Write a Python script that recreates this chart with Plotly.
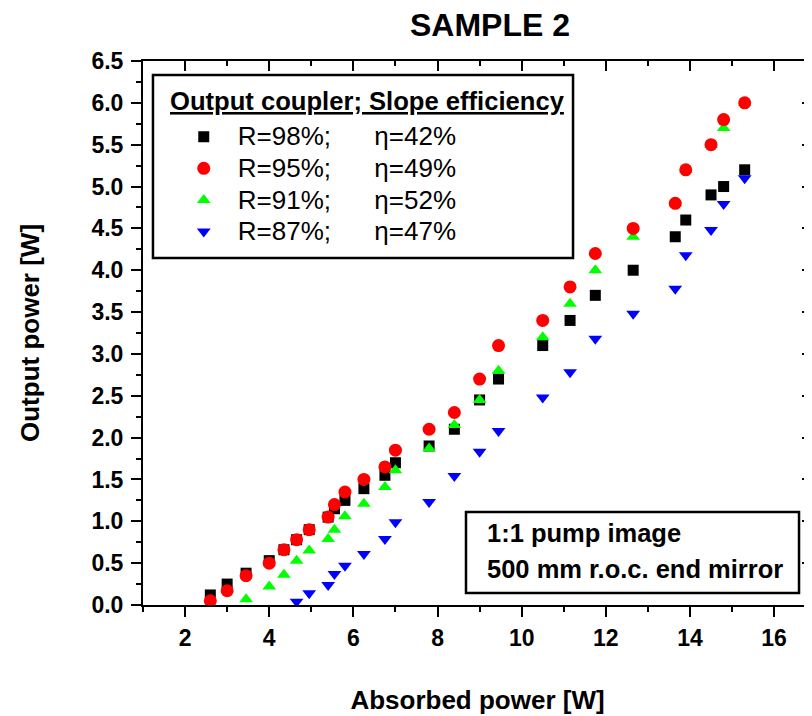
import plotly.graph_objects as go

# absorbed pump power [W] and output power [W] for each output coupler
x_98 = [2.6, 3.0, 3.45, 4.0, 4.35, 4.65, 4.95, 5.4, 5.55, 5.8, 6.25, 6.75, 7.0, 7.8, 8.4,
        9.0, 9.45, 10.5, 11.15, 11.75, 12.65, 13.65, 13.9, 14.5, 14.8, 15.3]
y_98 = [0.12, 0.25, 0.38, 0.53, 0.66, 0.78, 0.90, 1.05, 1.15, 1.25, 1.39, 1.55, 1.70, 1.90, 2.10,
        2.45, 2.70, 3.10, 3.40, 3.70, 4.00, 4.40, 4.60, 4.90, 5.00, 5.20]

x_95 = [2.6, 3.0, 3.45, 4.0, 4.35, 4.65, 4.95, 5.4, 5.55, 5.8, 6.25, 6.75, 7.0, 7.8, 8.4,
        9.0, 9.45, 10.5, 11.15, 11.75, 12.65, 13.65, 13.9, 14.5, 14.8, 15.3]
y_95 = [0.05, 0.17, 0.35, 0.50, 0.66, 0.78, 0.90, 1.05, 1.20, 1.35, 1.50, 1.65, 1.85, 2.10, 2.30,
        2.70, 3.10, 3.40, 3.80, 4.20, 4.50, 4.80, 5.20, 5.50, 5.80, 6.00]

x_91 = [3.45, 4.0, 4.35, 4.65, 4.95, 5.4, 5.55, 5.8, 6.25, 6.75, 7.0, 7.8, 8.4,
        9.0, 9.45, 10.5, 11.15, 11.75, 12.65, 13.65, 13.9, 14.5, 14.8, 15.3]
y_91 = [0.07, 0.22, 0.36, 0.53, 0.65, 0.79, 0.90, 1.06, 1.21, 1.41, 1.61, 1.87, 2.15,
        2.45, 2.80, 3.20, 3.60, 4.00, 4.40, 4.80, 5.20, 5.50, 5.70, 6.00]

x_87 = [4.65, 4.95, 5.4, 5.55, 5.8, 6.25, 6.75, 7.0, 7.8, 8.4,
        9.0, 9.45, 10.5, 11.15, 11.75, 12.65, 13.65, 13.9, 14.5, 14.8, 15.3]
y_87 = [0.04, 0.14, 0.24, 0.37, 0.47, 0.61, 0.79, 0.99, 1.23, 1.54,
        1.83, 2.08, 2.48, 2.78, 3.18, 3.48, 3.78, 4.18, 4.48, 4.79, 5.10]

labels = ["R=98%;", "R=95%;", "R=91%;", "R=87%;"]
slopes = ["\u03b7=42%", "\u03b7=49%", "\u03b7=52%", "\u03b7=47%"]

FONT = "Liberation Sans, Arial, sans-serif"
gap = "\u00a0" * 6

fig = go.Figure()

# drawing order: black, blue, green, red (red on top as in the original)
series = [
    (x_98, y_98, 0, "square", "#000000", 11),
    (x_87, y_87, 3, "triangle-down", "#0000ff", 12),
    (x_91, y_91, 2, "triangle-up", "#00ff00", 12),
    (x_95, y_95, 1, "circle", "#ff0000", 13),
]
for xs, ys, i, sym, col, sz in series:
    fig.add_trace(go.Scatter(
        x=xs, y=ys, mode="markers",
        name='<span style="font-size:26px">' + labels[i] + gap + slopes[i] + "</span>",
        legendrank=i + 1,
        marker=dict(symbol=sym, color=col, size=sz, line=dict(width=0)),
    ))

# empty trace so the mirrored (top / right) axes get drawn
fig.add_trace(go.Scatter(x=[], y=[], xaxis="x2", yaxis="y2", showlegend=False))

tickfont = dict(family=FONT, size=23, color="black", weight="bold")

# the page body adds an 8 px margin, so the figure is 8 px smaller than the window
fig.update_layout(
    width=804, height=708,
    margin=dict(l=135, r=0, t=53, b=111),
    paper_bgcolor="white", plot_bgcolor="white",
    title=dict(text="<b>SAMPLE 2</b>", x=0.5995, xanchor="center", y=0.976, yanchor="middle",
               font=dict(family=FONT, size=32, color="black")),
    xaxis=dict(
        range=[1, 16.9], tick0=0, dtick=2, automargin=False,
        showline=True, linecolor="black", linewidth=2,
        ticks="outside", ticklen=10, tickwidth=2, tickcolor="black",
        minor=dict(ticks="outside", ticklen=5, tickwidth=2, dtick=1, tickcolor="black"),
        showgrid=False, zeroline=False, tickfont=tickfont, ticklabelstandoff=1,
        title=dict(text="<b>Absorbed power [W]</b>", standoff=41,
                   font=dict(family=FONT, size=26, color="black")),
    ),
    yaxis=dict(
        range=[0, 6.5], tick0=0, dtick=0.5, tickformat=".1f", automargin=False,
        showline=True, linecolor="black", linewidth=2,
        ticks="outside", ticklen=10, tickwidth=2, tickcolor="black",
        minor=dict(ticks="outside", ticklen=5, tickwidth=2, dtick=0.25, tickcolor="black"),
        showgrid=False, zeroline=False, tickfont=tickfont, ticklabelstandoff=3,
        title=dict(text="<b>Output power [W]</b>", standoff=44,
                   font=dict(family=FONT, size=26, color="black")),
    ),
    xaxis2=dict(
        overlaying="x", side="top", anchor="y2", range=[1, 16.9], tick0=0, dtick=2,
        automargin=False,
        showline=True, linecolor="black", linewidth=2,
        ticks="inside", ticklen=10, tickwidth=2, tickcolor="black",
        minor=dict(ticks="inside", ticklen=5, tickwidth=2, dtick=1, tickcolor="black"),
        showticklabels=False, showgrid=False, zeroline=False,
    ),
    yaxis2=dict(
        overlaying="y", side="right", anchor="x2", range=[0, 6.5], tick0=0, dtick=0.5,
        automargin=False, showline=False,
        ticks="inside", ticklen=10, tickwidth=2, tickcolor="black",
        minor=dict(ticks="inside", ticklen=5, tickwidth=2, dtick=0.25, tickcolor="black"),
        showticklabels=False, showgrid=False, zeroline=False,
    ),
    showlegend=True,
    legend=dict(
        x=0.04, xanchor="left", y=0.899, yanchor="top",
        bgcolor="rgba(0,0,0,0)", borderwidth=0,
        font=dict(family=FONT, size=22, color="black"),
        itemwidth=58,
    ),
)

# legend frame and header
fig.add_shape(type="rect", xref="paper", yref="paper",
              x0=0.0149, x1=0.6428, y0=0.6379, y1=0.9743,
              line=dict(color="black", width=2.5), fillcolor="rgba(0,0,0,0)")
fig.add_annotation(xref="paper", yref="paper", x=0.0374, y=0.9265,
                   xanchor="left", yanchor="middle", showarrow=False,
                   text="<b><u>Output coupler; Slope efficiency</u></b>",
                   font=dict(family=FONT, size=25.6, color="black"))

# experimental conditions box
fig.add_shape(type="rect", xref="paper", yref="paper",
              x0=0.4828, x1=0.9806, y0=0.0221, y1=0.1710,
              line=dict(color="black", width=2.5), fillcolor="white")
fig.add_annotation(xref="paper", yref="paper", x=0.5112, y=0.1324,
                   xanchor="left", yanchor="middle", showarrow=False,
                   text="<b>1:1 pump image</b>",
                   font=dict(family=FONT, size=25.5, color="black"))
fig.add_annotation(xref="paper", yref="paper", x=0.5112, y=0.0662,
                   xanchor="left", yanchor="middle", showarrow=False,
                   text="<b>500 mm r.o.c. end mirror</b>",
                   font=dict(family=FONT, size=25.5, color="black"))

fig.write_html("out.html")
